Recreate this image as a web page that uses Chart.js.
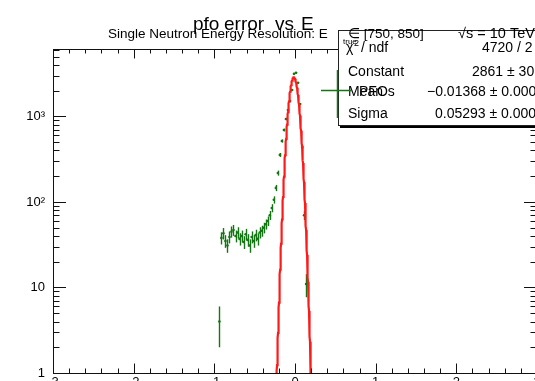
<!DOCTYPE html>
<html>
<head>
<meta charset="utf-8">
<script src="https://cdn.jsdelivr.net/npm/chart.js@4.4.0/dist/chart.umd.min.js"></script>
<style>
  html, body { margin: 0; padding: 0; background: #fff; overflow: hidden; width: 535px; height: 381px; }
  #plot { position: absolute; left: 0; top: 0; }
</style>
</head>
<body>
<canvas id="plot" width="545" height="400"></canvas>
<script>
'use strict';

// histogram: bin centres and entries
const binCenters = [
  -0.9375,
  -0.9125, -0.8875, -0.8625, -0.8375, -0.8125, -0.7875, -0.7625, -0.7375, -0.7125, -0.6875,
  -0.6625, -0.6375, -0.6125, -0.5875, -0.5625, -0.5375, -0.5125, -0.4875, -0.4625, -0.4375,
  -0.4125, -0.3875, -0.3625, -0.3375, -0.3125, -0.2875, -0.2625, -0.2375, -0.2125, -0.1875,
  -0.1625, -0.1375, -0.1125, -0.0875, -0.0625, -0.0375, -0.0125,
  0.0125, 0.0375, 0.0625, 0.0875, 0.1125, 0.1375
];
const counts = [
  4,
  38, 43, 35, 31, 39, 45, 47, 40, 44, 37,
  40, 34, 42, 36, 31, 39, 35, 41, 37, 44,
  46, 50, 55, 60, 70, 85, 106, 146, 218, 355,
  517, 695, 935, 1190, 1518, 2040, 3150,
  3250, 2480, 1400, 440, 70, 11
];

// gaussian fit result
const fitConstant = 2861;
const fitMean = -0.01368;
const fitSigma = 0.05293;

// axis ticks
const xTicks = [-3, -2, -1, 0, 1, 2, 3];
const yTicks = [1, 10, 100, 1000];
const yLabels = ['1', '10', '10²', '10³'];

// stats box rows
const statNames = ['/ ndf', 'Constant', 'Mean', 'Sigma'];
const statValues = ['4720 / 2', '2861 ± 30.', '−0.01368 ± 0.0007', '0.05293 ± 0.0004'];

// title pieces (latex subscripts collapse the underscores)
const titleParts = ['pfo', 'error', 'vs', 'E'];
const titleX = [193, 224, 275, 301];

const GREEN = '#137513';
const FONT = '"Liberation Sans", Arial, Helvetica, sans-serif';

const curve = [];
for (let i = 0; i <= 260; i++) {
  const x = -0.27 + i * 0.002;
  const z = (x - fitMean) / fitSigma;
  curve.push({ x: x, y: fitConstant * Math.exp(-0.5 * z * z) });
}

const points = binCenters.map((c, i) => ({ x: c, y: counts[i] }));

function txt(ctx, s, x, y, size, align) {
  ctx.font = size + 'px ' + FONT;
  ctx.textAlign = align || 'left';
  ctx.textBaseline = 'alphabetic';
  ctx.fillText(s, x, y);
}

const rootPad = {
  id: 'rootPad',
  beforeDatasetsDraw(chart) {
    // vertical error bars, sqrt(N)
    const { ctx, chartArea: a, scales: { x, y } } = chart;
    ctx.save();
    ctx.beginPath();
    ctx.rect(a.left, a.top, a.right - a.left, a.bottom - a.top);
    ctx.clip();
    ctx.strokeStyle = GREEN;
    ctx.lineWidth = 1.4;
    binCenters.forEach((c, i) => {
      const n = counts[i];
      const e = Math.sqrt(n);
      const px = Math.round(x.getPixelForValue(c)) + 0.5;
      ctx.beginPath();
      ctx.moveTo(px, y.getPixelForValue(Math.max(n - e, 0.5)));
      ctx.lineTo(px, y.getPixelForValue(n + e));
      ctx.stroke();
    });
    ctx.restore();
  },
  afterDraw(chart) {
    const { ctx, chartArea: a, scales: { x, y } } = chart;
    ctx.save();

    // frame
    ctx.strokeStyle = '#111';
    ctx.lineWidth = 1;
    ctx.strokeRect(a.left + 0.5, a.top + 0.5, a.right - a.left, a.bottom - a.top);

    // x ticks, inside, bottom and top
    ctx.beginPath();
    for (let k = -15; k <= 15; k++) {
      const px = Math.round(x.getPixelForValue(k * 0.2)) + 0.5;
      const len = k % 5 === 0 ? 9.5 : 4.5;
      ctx.moveTo(px, a.bottom);
      ctx.lineTo(px, a.bottom - len);
      ctx.moveTo(px, a.top);
      ctx.lineTo(px, a.top + len);
    }
    // y ticks, log decades
    for (const d of [1, 10, 100, 1000]) {
      for (let m = 1; m <= 9; m++) {
        const v = m * d;
        if (v > y.max) break;
        const py = Math.round(y.getPixelForValue(v)) + 0.5;
        const len = m === 1 ? 13 : 6.5;
        ctx.moveTo(a.left, py);
        ctx.lineTo(a.left + len, py);
        ctx.moveTo(a.right, py);
        ctx.lineTo(a.right - len, py);
      }
    }
    ctx.stroke();

    // stats box
    const bx = 338, by = 30, bw = 220, bh = 95;
    ctx.fillStyle = '#000';
    ctx.fillRect(bx + 2, by + 2, bw, bh + 1);
    ctx.fillStyle = '#fff';
    ctx.fillRect(bx, by, bw, bh);
    ctx.strokeStyle = '#222';
    ctx.strokeRect(bx + 0.5, by + 0.5, bw, bh);

    ctx.fillStyle = '#000';
    const rows = [52, 76, 96, 118];
    txt(ctx, 'χ', 346, rows[0], 14);
    txt(ctx, '2', 354, rows[0] - 6, 9);
    txt(ctx, statNames[0], 361, rows[0], 14);
    for (let i = 1; i < 4; i++) txt(ctx, statNames[i], 348, rows[i], 14);
    const vx = [482, 472, 427, 435];
    for (let i = 0; i < 4; i++) txt(ctx, statValues[i], vx[i], rows[i], 14);

    // legend entry
    ctx.strokeStyle = GREEN;
    ctx.lineWidth = 1.5;
    ctx.beginPath();
    ctx.moveTo(321, 90.5);
    ctx.lineTo(352, 90.5);
    ctx.moveTo(337.5, 70);
    ctx.lineTo(337.5, 118);
    ctx.stroke();
    ctx.fillStyle = '#000';
    txt(ctx, 'PFOs', 359, 96, 14);

    // histogram title
    titleParts.forEach((s, i) => txt(ctx, s, titleX[i], 30, 19));

    // subtitle
    txt(ctx, 'Single Neutron Energy Resolution: E', 108, 37.5, 13.5);
    txt(ctx, 'true', 343, 44, 8);
    txt(ctx, '∈ [750, 850]', 348, 37.5, 13.5);
    txt(ctx, '√s = 10 TeV', 458, 37.5, 14.5);

    ctx.restore();
  }
};

new Chart(document.getElementById('plot'), {
  type: 'scatter',
  data: {
    datasets: [
      {
        label: 'PFOs',
        data: points,
        showLine: false,
        pointRadius: 1.3,
        pointHoverRadius: 1.3,
        pointBackgroundColor: GREEN,
        pointBorderWidth: 0,
        order: 2
      },
      {
        label: 'gaus',
        data: curve,
        showLine: true,
        borderColor: '#ff1a1a',
        borderWidth: 2.2,
        pointRadius: 0,
        tension: 0,
        order: 1
      }
    ]
  },
  options: {
    responsive: false,
    animation: false,
    devicePixelRatio: 1,
    layout: { padding: { left: 0, top: 49, right: 8, bottom: 0 } },
    plugins: { legend: { display: false }, tooltip: { enabled: false }, title: { display: false } },
    scales: {
      x: {
        type: 'linear',
        min: -3,
        max: 3,
        afterBuildTicks: (s) => { s.ticks = xTicks.map(v => ({ value: v })); },
        afterFit: (s) => { s.height = 27; },
        grid: { display: false, drawTicks: false },
        border: { display: false },
        ticks: {
          padding: 2,
          color: '#000',
          font: { family: FONT, size: 13 },
          maxRotation: 0,
          callback: (v) => String(v)
        }
      },
      y: {
        type: 'logarithmic',
        min: 1,
        max: 6150,
        afterBuildTicks: (s) => { s.ticks = yTicks.map(v => ({ value: v })); },
        afterFit: (s) => { s.width = 53; },
        grid: { display: false, drawTicks: false },
        border: { display: false },
        ticks: {
          padding: 8,
          color: '#000',
          font: { family: FONT, size: 13 },
          callback: (v) => yLabels[yTicks.indexOf(v)]
        }
      }
    }
  },
  plugins: [rootPad]
});
</script>
</body>
</html>
